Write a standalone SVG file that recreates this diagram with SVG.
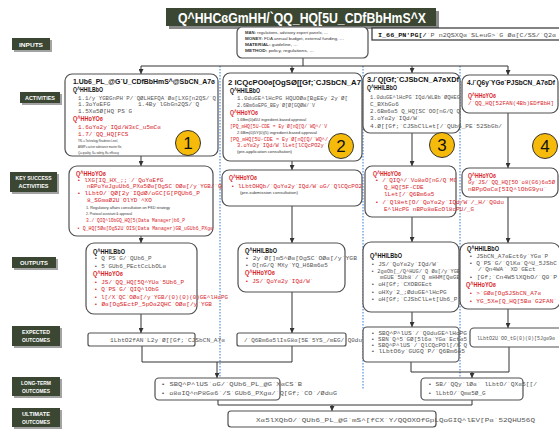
<svg xmlns="http://www.w3.org/2000/svg" width="559" height="429" viewBox="0 0 559 429">
<defs>
<style>
.box{fill:#fff;stroke:#505050;stroke-width:1.2}
.lb{fill:#3b4733}
.ls{fill:#a3a3a3}
.lt{fill:#fff;font-family:"Liberation Sans",sans-serif;font-size:6px;font-weight:bold;text-anchor:middle}
.m{font-family:"Liberation Mono","DejaVu Sans Mono",monospace;font-size:6px;fill:#555}
.hb{font-family:"Liberation Sans",sans-serif;font-weight:bold;font-size:8px;fill:#111}
.r{fill:#d8262c}
.t{font-family:"Liberation Sans",sans-serif;font-size:4px;fill:#333}
.con{fill:none;stroke:#333;stroke-width:1}
.dot{fill:none;stroke:#2f7ad8;stroke-width:1;stroke-dasharray:1.5 1.5}
.num circle{fill:#f6bb0a;stroke:#333;stroke-width:1}
.num text{font-family:"Liberation Sans",sans-serif;font-size:17px;text-anchor:middle;fill:#111}
</style>
<marker id="ah" viewBox="0 0 6 6" refX="6" refY="3" markerWidth="5" markerHeight="5" markerUnits="userSpaceOnUse" orient="auto">
<path d="M0,0 L6,3 L0,6 z" fill="#333"/>
</marker>
</defs>
<rect width="559" height="429" fill="#fff"/>

<!-- title banner -->
<g id="title">
<rect x="169" y="11" width="270" height="18" fill="#8a8a8a"/>
<rect x="166" y="8" width="270" height="18" fill="#3b4733"/>
<text x="178" y="23" fill="#fff" font-family="Liberation Sans, sans-serif" font-weight="bold" font-size="15" textLength="248" lengthAdjust="spacingAndGlyphs">Q^HHCɞGmHH/`QQ_HQ[5U_CDfBbHmS^X</text>
</g>

<!-- row labels -->
<g id="lbl-inputs"><rect class="ls" x="14" y="40" width="38" height="12"/><rect class="lb" x="12" y="38" width="38" height="12"/><text class="lt" x="31" y="46.5" textLength="24" lengthAdjust="spacingAndGlyphs">INPUTS</text></g>
<g id="lbl-activities"><rect class="ls" x="22" y="94" width="40" height="11"/><rect class="lb" x="20" y="92" width="40" height="11"/><text class="lt" x="40" y="100" textLength="30" lengthAdjust="spacingAndGlyphs">ACTIVITIES</text></g>
<g id="lbl-key"><rect class="ls" x="12" y="174" width="47" height="20"/><rect class="lb" x="10" y="172" width="47" height="20"/><text class="lt" x="33.5" y="180" textLength="36" lengthAdjust="spacingAndGlyphs">KEY SUCCESS</text><text class="lt" x="33.5" y="188" textLength="30" lengthAdjust="spacingAndGlyphs">ACTIVITIES</text></g>
<g id="lbl-outputs"><rect class="ls" x="14" y="259" width="44" height="11"/><rect class="lb" x="12" y="257" width="44" height="11"/><text class="lt" x="34" y="265" textLength="28" lengthAdjust="spacingAndGlyphs">OUTPUTS</text></g>
<g id="lbl-expected"><rect class="ls" x="14" y="328" width="48" height="20"/><rect class="lb" x="12" y="326" width="48" height="20"/><text class="lt" x="36" y="334" textLength="28" lengthAdjust="spacingAndGlyphs">EXPECTED</text><text class="lt" x="36" y="342" textLength="28" lengthAdjust="spacingAndGlyphs">OUTCOMES</text></g>
<g id="lbl-longterm"><rect class="ls" x="14" y="379" width="48" height="19"/><rect class="lb" x="12" y="377" width="48" height="19"/><text class="lt" x="36" y="385" textLength="30" lengthAdjust="spacingAndGlyphs">LONG-TERM</text><text class="lt" x="36" y="393" textLength="28" lengthAdjust="spacingAndGlyphs">OUTCOMES</text></g>
<g id="lbl-ultimate"><rect class="ls" x="14" y="410" width="48" height="19"/><rect class="lb" x="12" y="408" width="48" height="19"/><text class="lt" x="36" y="416" textLength="28" lengthAdjust="spacingAndGlyphs">ULTIMATE</text><text class="lt" x="36" y="424" textLength="28" lengthAdjust="spacingAndGlyphs">OUTCOMES</text></g>

<!-- column separators -->
<g id="separators">
<path class="dot" d="M220,66 V378"/>
<path class="dot" d="M363,66 V390"/>
<path class="dot" d="M460,66 V398"/>
</g>

<!-- connectors -->
<g id="connectors">
<path class="con" d="M303,58 V66 M141,66 H508"/>
<path class="con" d="M141,66 V74" marker-end="url(#ah)"/>
<path class="con" d="M292,66 V73" marker-end="url(#ah)"/>
<path class="con" d="M412,66 V73" marker-end="url(#ah)"/>
<path class="con" d="M508,66 V75" marker-end="url(#ah)"/>
<path class="con" d="M141,156 V166" marker-end="url(#ah)"/>
<path class="con" d="M141,236 V243" marker-end="url(#ah)"/>
<path class="con" d="M141,314 V333" marker-end="url(#ah)"/>
<path class="con" d="M292,161 V170" marker-end="url(#ah)"/>
<path class="con" d="M292,206 V243" marker-end="url(#ah)"/>
<path class="con" d="M292,292 V333" marker-end="url(#ah)"/>
<path class="con" d="M412,133 V166" marker-end="url(#ah)"/>
<path class="con" d="M412,217 V242" marker-end="url(#ah)" stroke="#888" stroke-width="1.5"/>
<path class="con" d="M412,312 V327" marker-end="url(#ah)" stroke="#888" stroke-width="1.5"/>
<path class="con" d="M508,113 V168" marker-end="url(#ah)"/>
<path class="con" d="M508,197 V243" marker-end="url(#ah)"/>
<path class="con" d="M508,309 V328" marker-end="url(#ah)"/>
<path class="con" d="M142,346 V362 H292 V346"/>
<path class="con" d="M217,362 V378" marker-end="url(#ah)"/>
<path class="con" d="M411,362 V372 H509 V347"/>
<path class="con" d="M472,372 V378" marker-end="url(#ah)"/>
<path class="con" d="M218,400 V405 H472 V400"/>
<path class="con" d="M332,405 V411" marker-end="url(#ah)"/>
</g>

<!-- inputs -->
<g id="inputs">
<rect class="box" x="237" y="27" width="131" height="31" rx="5"/>
<text class="t" x="245" y="34" textLength="83" lengthAdjust="spacingAndGlyphs"><tspan font-weight="bold">MAN:</tspan> regulations, advisory expert panels, …</text>
<text class="t" x="245" y="40" textLength="99" lengthAdjust="spacingAndGlyphs"><tspan font-weight="bold">MONEY:</tspan> FDA annual budget, external funding, …</text>
<text class="t" x="245" y="46" textLength="53" lengthAdjust="spacingAndGlyphs"><tspan font-weight="bold">MATERIAL:</tspan> guideline, …</text>
<text class="t" x="245" y="52" textLength="69" lengthAdjust="spacingAndGlyphs"><tspan font-weight="bold">METHOD:</tspan> policy, regulations, …</text>
</g>
<g id="inputs-note">
<rect x="372" y="28" width="190" height="12" fill="#fff" stroke="#333" stroke-width="1.2"/>
<text class="m" x="378" y="37" fill="#333" textLength="178" lengthAdjust="spacingAndGlyphs"><tspan font-weight="bold" fill="#111">I_66_PN'PG[/</tspan>`P n2QSXQɞ`SLeuG&gt;`G Øɞ[C/SS/`Q2ɞ</text>
</g>

<!-- activities -->
<g id="act1">
<rect class="box" x="65" y="74" width="153" height="82" rx="7"/>
<text class="hb" x="73" y="84" textLength="142" lengthAdjust="spacingAndGlyphs">1.Ub6_PL_@G`U_CDfBbHmS^@SbCN_A7ɞ</text>
<text class="hb" x="73" y="92" textLength="30" lengthAdjust="spacingAndGlyphs">Q^HHlLBbO</text>
<text class="m" x="78" y="99.5" textLength="138" lengthAdjust="spacingAndGlyphs">1.1/y`YGBGnPH`P/`QØLHEFQA`Øɞ[LXG[n2QS/`Q</text>
<text class="m" x="78" y="106">1.3oYɞEFG</text>
<text class="m" x="138" y="106">1.4By`lGbGn2QS/`Q</text>
<text class="m" x="78" y="112.5">1.5Xɞ5Ø[HQ`PS`G</text>
<text class="hb r" x="73" y="120.5" textLength="30" lengthAdjust="spacingAndGlyphs">Q^HHoYOɞ</text>
<text class="m r" x="78" y="129">1.6oYɞ2y`IQd/W3ɛC_u5mCɞ</text>
<text class="m r" x="78" y="135.5">1.7/`QQ_HQ[FCS</text>
<text class="t" x="78" y="141.5" textLength="40" lengthAdjust="spacingAndGlyphs">TRL = Technology Readiness Level,</text>
<text class="t" x="78" y="147.5" textLength="44" lengthAdjust="spacingAndGlyphs">ASMP= active substance master file,</text>
<text class="t" x="78" y="153.5" textLength="41" lengthAdjust="spacingAndGlyphs">Q= quality, S= safety, E= efficacy</text>
</g>
<g id="act2">
<rect class="box" x="223" y="73" width="139" height="88" rx="7"/>
<text class="hb" x="228" y="85" textLength="133" lengthAdjust="spacingAndGlyphs">2 lCQcPO0ɞ[OgSØ[[Gf;`CJSbCN_A7</text>
<text class="hb" x="230" y="92.5" textLength="30" lengthAdjust="spacingAndGlyphs">Q^HHlLBbO</text>
<text class="m" x="237" y="100" textLength="111" lengthAdjust="spacingAndGlyphs">1.0duGE^lHcPG HQUOØɞ[BgEEy`2y`Ø[</text>
<text class="m" x="237" y="107" textLength="78" lengthAdjust="spacingAndGlyphs">2.6Bm6ɞEPG_BEy`Ø[Ø[GQØW/`V</text>
<text class="hb r" x="230" y="115" textLength="28" lengthAdjust="spacingAndGlyphs">Q^HHoYOɞ</text>
<text class="t r" x="237" y="121" textLength="69" lengthAdjust="spacingAndGlyphs">1.6Bm(0)d5U ingredient-based approval</text>
<text class="m r" x="230" y="127.5" textLength="97" lengthAdjust="spacingAndGlyphs">[PQ_mHQ[5U-CDE ➡ Ey`Ø[nQ[Q/`WQ^/`V</text>
<text class="t r" x="237" y="134" textLength="80" lengthAdjust="spacingAndGlyphs">2.6Bm(0)5Y(0)(5) ingredient-based approval</text>
<text class="m r" x="230" y="140.5" textLength="98" lengthAdjust="spacingAndGlyphs">[PQ_mHQ[5U-CDE ➡ Ey`Ø[nQ[Q/`WQ^/</text>
<text class="m r" x="237" y="147" textLength="90" lengthAdjust="spacingAndGlyphs">3.oYɞ2y`IQd/W`lLet[lCQcPO2y`</text>
<text class="t r" x="237" y="152.5" textLength="55" lengthAdjust="spacingAndGlyphs">(pre-application consultation)</text>
</g>
<g id="act3">
<rect class="box" x="363" y="73" width="97" height="60" rx="7"/>
<text class="hb" x="367" y="82" textLength="92" lengthAdjust="spacingAndGlyphs">3./`Q[Gf;`CJSbCN_A7ɞXDf</text>
<text class="hb" x="367" y="90" textLength="30" lengthAdjust="spacingAndGlyphs">Q^HHlLBbO</text>
<text class="m" x="370" y="98.5" textLength="90" lengthAdjust="spacingAndGlyphs">1.0duGE^lHcPG`IQd/WLBb`ØQHEG</text>
<text class="m" x="370" y="105.5">C_BXbGo6</text>
<text class="m" x="370" y="112.5" textLength="90" lengthAdjust="spacingAndGlyphs">2.6Bm6ɞ5 Q_HQ[SC`OO[nG/Q`Q</text>
<text class="m" x="370" y="119.5">3.oYɞ2y`IQd/W`</text>
<text class="m" x="370" y="127.5" textLength="132" lengthAdjust="spacingAndGlyphs">4.Ø[[Gf;`CJSbClLet[/`QUb6_PE`52SbGb/</text>
</g>
<g id="act4">
<rect class="box" x="462" y="75" width="96" height="38" rx="7"/>
<text class="hb" x="467" y="85" font-size="6.6" textLength="88" lengthAdjust="spacingAndGlyphs">4./`Q6y`YGɞ`PJSbCN_A7ɞDf</text>
<text class="hb r" x="468" y="98" textLength="28" lengthAdjust="spacingAndGlyphs">Q^HHoYOɞ</text>
<text class="m r" x="468" y="104.5" font-size="5.5" textLength="86" lengthAdjust="spacingAndGlyphs">/`QQ_HQ[52FAN(4Bb)EDfBbH]</text>
</g>

<!-- numbered markers -->
<g id="num1" class="num"><circle cx="188" cy="143" r="12.5"/><text x="188" y="149">1</text></g>
<g id="num2" class="num"><circle cx="341" cy="146" r="12.5"/><text x="341" y="152">2</text></g>
<g id="num3" class="num"><circle cx="442" cy="145" r="12.5"/><text x="442" y="151">3</text></g>
<g id="num4" class="num"><circle cx="545" cy="146" r="12.5"/><text x="545" y="152">4</text></g>

<!-- key success activities -->
<g id="ksa1">
<rect class="box" x="69" y="166" width="144" height="70" rx="8"/>
<text class="hb r" x="76" y="175.5" textLength="30" lengthAdjust="spacingAndGlyphs">Q^HHoYOɞ</text>
<text class="m r" x="77" y="181.5">•  lXG[IQ_HX_;;`/`QoYɞEfG</text>
<text class="m r" x="87" y="188" textLength="138" lengthAdjust="spacingAndGlyphs">nBPoYɞJguUb6_PXɞ5Øɞ[OgSC`OØɞ[/y`YGB/`QP</text>
<text class="m r" x="77" y="195" textLength="123" lengthAdjust="spacingAndGlyphs">•  lLbtO/`QØ[2y`IQdØ/oGC[G[PQUb6_P</text>
<text class="m r" x="87" y="201.5">8_SGmɞØ2U`OlYD`^XO</text>
<text class="t r" x="86" y="208.5" textLength="84" lengthAdjust="spacingAndGlyphs">1. Regulatory affairs consultation on FSD strategy</text>
<text class="t r" x="86" y="215" textLength="46" lengthAdjust="spacingAndGlyphs">2. Protocol assistant &amp; approval</text>
<text class="m r" x="86" y="222" textLength="99" lengthAdjust="spacingAndGlyphs">3./`QIQ^lObGQ_HQ[5(Data Manager)b6_P</text>
<text class="m r" x="77" y="229.5" textLength="136" lengthAdjust="spacingAndGlyphs">•  Q_HQ[5Øɞ[OgS2U`OIS(Data Manager)GB_uGUb6_PXgɞ</text>
</g>
<g id="ksa2">
<rect class="box" x="222" y="170" width="140" height="36" rx="7"/>
<text class="hb r" x="229" y="180" textLength="28" lengthAdjust="spacingAndGlyphs">Q^HHoYOɞ</text>
<text class="m r" x="231" y="188" textLength="131" lengthAdjust="spacingAndGlyphs">•  lLbtOHQb/`QoYɞ2y`IQd/W`oG/`QlCQcPO2</text>
<text class="t r" x="240" y="194" textLength="58" lengthAdjust="spacingAndGlyphs">(pre-submission consultation)</text>
</g>
<g id="ksa3">
<rect class="box" x="365" y="166" width="91" height="51" rx="7"/>
<text class="hb r" x="373" y="175.5" textLength="28" lengthAdjust="spacingAndGlyphs">Q^HHoYOɞ</text>
<text class="m r" x="375" y="182" textLength="82" lengthAdjust="spacingAndGlyphs">•  /`QIQ^/`Vo8ɞO[nG/Q`MC</text>
<text class="m r" x="384" y="189">Q_HQ[5F-CDE</text>
<text class="m r" x="384" y="196">lLet[/`Q6Bm6ɞ5</text>
<text class="m r" x="375" y="203.5" textLength="129" lengthAdjust="spacingAndGlyphs">•  /`Ql8et[O/`QoYɞ2y`IQd/W`/_H/`Q0du</text>
<text class="m r" x="384" y="210.5" textLength="90" lengthAdjust="spacingAndGlyphs">E^lHcPG nBPo8ɞEcOl8cPU/_G</text>
</g>
<g id="ksa4">
<rect class="box" x="462" y="168" width="96" height="29" rx="7"/>
<text class="hb r" x="468" y="177.5" textLength="28" lengthAdjust="spacingAndGlyphs">Q^HHoYOɞ</text>
<text class="m r" x="468" y="184" font-size="5.4" textLength="87" lengthAdjust="spacingAndGlyphs">Gy`JS/`QQ_HQ[5O`o8(G6)6ɞ5Ø</text>
<text class="m r" x="468" y="191" textLength="79" lengthAdjust="spacingAndGlyphs">nBPpOɞCɞ[5IQ^lObG9yu`</text>
</g>

<!-- outputs -->
<g id="out1">
<rect class="box" x="86" y="243" width="111" height="71" rx="8"/>
<text class="hb" x="93" y="253.5" textLength="32" lengthAdjust="spacingAndGlyphs">Q^HHlLBbO</text>
<text class="m" x="94" y="260">•  Q`PS`G/`QUb6_P</text>
<text class="m" x="94" y="267.5">•  5`GUb6_PEctCcLbOLɞ</text>
<text class="hb r" x="93" y="275.5" textLength="30" lengthAdjust="spacingAndGlyphs">Q^HHoYOɞ</text>
<text class="m r" x="94" y="283.5">•  JS/`QQ_HQ[5Q^YUɞ`5Ub6_P</text>
<text class="m r" x="94" y="291">•  Q`PS`G/`QIQ^lObG</text>
<text class="m r" x="94" y="298.5" textLength="134" lengthAdjust="spacingAndGlyphs">•  l[/X`QC`OØɞ[/y`YGB/(0)(0)(0)GE^lHcPG</text>
<text class="m r" x="94" y="305.5" textLength="118" lengthAdjust="spacingAndGlyphs">•  Øɞ[OgSEctP_5pOɞ2QHC`OØɞ[/y`YGB</text>
</g>
<g id="out2">
<rect class="box" x="238" y="243" width="107" height="49" rx="8"/>
<text class="hb" x="245" y="252.5" textLength="32" lengthAdjust="spacingAndGlyphs">Q^HHlLBbO</text>
<text class="m" x="245" y="259.5" textLength="112" lengthAdjust="spacingAndGlyphs">•  2y`Ø[]m5^Øɞ[OgSC`OØɞ[/y`YGB</text>
<text class="m" x="245" y="266.5">•  O[nG/Q`MXy`YQ_H6Bm6ɞ5</text>
<text class="hb r" x="245" y="275" textLength="30" lengthAdjust="spacingAndGlyphs">Q^HHoYOɞ</text>
<text class="m r" x="245" y="283">•  JS/`QoYɞ2y`IQd/W`</text>
</g>
<g id="out3">
<rect class="box" x="363" y="242" width="96" height="70" rx="8"/>
<text class="hb" x="370" y="257.5" textLength="32" lengthAdjust="spacingAndGlyphs">Q^HHlLBbO</text>
<text class="m" x="371" y="265.5">•  JS/`QoYɞ2y`IQd/W`</text>
<text class="m" x="371" y="272.5" textLength="89" lengthAdjust="spacingAndGlyphs">•  2gɞOb[_/Q^HUG/`Q Øɞ[/y`YGB</text>
<text class="m" x="380" y="278.5" textLength="80" lengthAdjust="spacingAndGlyphs">mGUE`5Ub8`/`Q mHHM[QɞGE</text>
<text class="m" x="371" y="286">•  oH[Gf;`CXOBGEct</text>
<text class="m" x="371" y="293.5">•  oHXy`2_;ØduGE^lHcPG</text>
<text class="m" x="371" y="300.5">•  oH[Gf;`CJSbClLet[Ub6_P</text>
</g>
<g id="out4">
<rect class="box" x="460" y="243" width="100" height="66" rx="8"/>
<text class="hb" x="467" y="250.5" textLength="32" lengthAdjust="spacingAndGlyphs">Q^HHlLBbO</text>
<text class="m" x="469" y="257.5">•  JSbCN_A7ɞEct6y`YGɞ`P</text>
<text class="m" x="469" y="264.5" textLength="88" lengthAdjust="spacingAndGlyphs">•  Q`PS`G/`QlKɞ`Q^U_5JSbC</text>
<text class="m" x="478" y="270.5">/`Qn4WA` XD`GEct</text>
<text class="m" x="469" y="278.5" textLength="88" lengthAdjust="spacingAndGlyphs">•  [Gf;`Cn4W5lXQbO/`Q0`P</text>
<text class="hb r" x="466" y="286.5" textLength="30" lengthAdjust="spacingAndGlyphs">Q^HHoYOɞ</text>
<text class="m r" x="469" y="294.5">•  &gt;`GØɞ[OgSJSbCN_A7ɞ</text>
<text class="m r" x="469" y="302.5" textLength="88" lengthAdjust="spacingAndGlyphs">•  YG_5Xe[Q_HQ[5Bɞ`G2FAN`</text>
</g>

<!-- expected outcomes -->
<g id="exp1">
<rect class="box" x="88" y="333" width="107" height="13" rx="2"/>
<text class="m" x="110" y="342" textLength="115" lengthAdjust="spacingAndGlyphs">1LbtO2fAN`L2y`Ø[[Gf;`CJSbCN_A7ɞ</text>
</g>
<g id="exp2">
<rect class="box" x="237" y="333" width="109" height="13" rx="2"/>
<text class="m" x="244" y="342" textLength="118" lengthAdjust="spacingAndGlyphs">/`Q6Bm6ɞ5lIsG8ɞ[5E`5YS_/mEG/`Q0du</text>
</g>
<g id="exp3">
<rect class="box" x="363" y="327" width="96" height="35" rx="4"/>
<text class="m" x="371" y="334.5" textLength="96" lengthAdjust="spacingAndGlyphs">•  SBQ^P^lUS`/`Q0duGE^lHcPG</text>
<text class="m" x="371" y="340.5" textLength="96" lengthAdjust="spacingAndGlyphs">•  SBN`Q^5`GØ[5l6ɞ`YGɞ`Ectɞ5</text>
<text class="m" x="371" y="346.5" textLength="96" lengthAdjust="spacingAndGlyphs">•  SBQ^P^lUS`/`QlCQcPOl[/X`Q</text>
<text class="m" x="371" y="353" textLength="94" lengthAdjust="spacingAndGlyphs">•  lLbtO6y`GUGQ`P/`Q6Bm6ɞ5</text>
</g>
<g id="exp4">
<rect class="box" x="470" y="328" width="95" height="19" rx="4"/>
<text class="m" x="477" y="340" font-size="5.2" textLength="78" lengthAdjust="spacingAndGlyphs">lLbtO2U`OO_tG(0)(0)[5Jgɞ9ɞ</text>
</g>

<!-- long-term outcomes -->
<g id="lt1">
<rect class="box" x="155" y="378" width="125" height="22" rx="4"/>
<text class="m" x="161" y="386" textLength="141" lengthAdjust="spacingAndGlyphs">•  SBQ^P^lUS`oG/`QUb6_PL_@G`XɞCS`B</text>
<text class="m" x="161" y="395" textLength="176" lengthAdjust="spacingAndGlyphs">•  o8ɞIQ^nP8Gɞ6`/S`GUb6_PXgɞ/`Q[Gf;`CO`/ØduG</text>
</g>
<g id="lt2">
<rect class="box" x="421" y="378" width="102" height="22" rx="4"/>
<text class="m" x="428" y="386" textLength="109" lengthAdjust="spacingAndGlyphs">•  SB/`QQy`lØɞ` lLbtO/`QXɞ5[[/</text>
<text class="m" x="428" y="395">•  lLbtO/`Qmɞ5Ø_G</text>
</g>

<!-- ultimate outcome -->
<g id="ultimate">
<rect class="box" x="228" y="411" width="208" height="16" rx="3"/>
<text class="m" x="256" y="422" textLength="279" lengthAdjust="spacingAndGlyphs">Xɞ5lXQbO/`QUb6_PL_@G`mS^[fCX`Y/QQOXOfGpLQoGIQ^lEV[Pɞ`52QHU56Q</text>
</g>
</svg>
